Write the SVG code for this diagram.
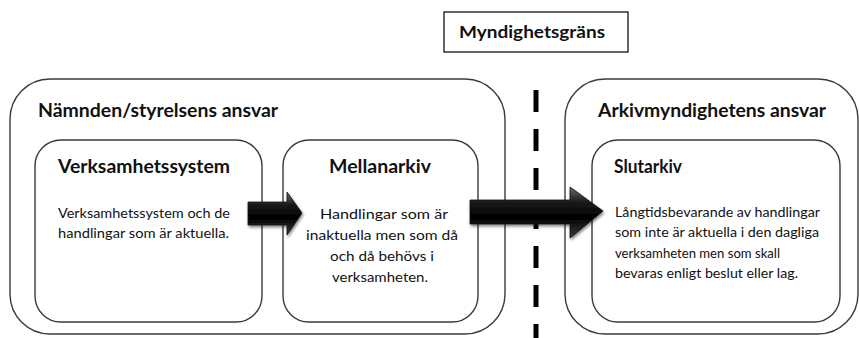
<svg xmlns="http://www.w3.org/2000/svg" width="860" height="338" viewBox="0 0 860 338">
<style>
.bg{fill:#ffffff}
.outer{fill:#ffffff;stroke:#3a3a3a;stroke-width:1.4}
.inner{fill:#ffffff;stroke:#3a3a3a;stroke-width:1.4}
.title{font-family:Lato,"Open Sans","Liberation Sans",sans-serif;font-weight:bold;font-size:19px;fill:#111}
.head{font-family:Lato,"Open Sans","Liberation Sans",sans-serif;font-weight:bold;font-size:18px;fill:#111}
.body{font-family:Lato,"Open Sans","Liberation Sans",sans-serif;font-size:13px;fill:#111}
.arrow{fill:url(#ag);stroke:#111;stroke-width:0.8;filter:url(#sh)}
</style>
<defs>
<linearGradient id="ag" x1="0" y1="0" x2="0" y2="1">
<stop offset="0" stop-color="#6a6a6a"/>
<stop offset="0.3" stop-color="#1a1a1a"/>
<stop offset="0.6" stop-color="#000000"/>
<stop offset="1" stop-color="#3c3c3c"/>
</linearGradient>
<filter id="sh" x="-20%" y="-30%" width="140%" height="160%">
<feGaussianBlur in="SourceAlpha" stdDeviation="1.5"/>
<feOffset dx="1" dy="2" result="b"/>
<feComponentTransfer><feFuncA type="linear" slope="0.5"/></feComponentTransfer>
<feMerge><feMergeNode/><feMergeNode in="SourceGraphic"/></feMerge>
</filter>
</defs>
<rect class="bg" x="0" y="0" width="860" height="338"/>

<g id="myndighetsgrans">
<rect x="444" y="12" width="184" height="40" fill="#fff" stroke="#222" stroke-width="1.4"/>
<text class="head" x="459" y="38" textLength="146" lengthAdjust="spacingAndGlyphs" style="font-size:17px">Myndighetsgräns</text>
</g>

<g id="boundary">
<line x1="536" y1="90" x2="536" y2="338" stroke="#000" stroke-width="5" stroke-dasharray="22 17"/>
</g>

<g id="namnden">
<rect class="outer" x="10" y="79" width="495" height="255" rx="40" ry="40"/>
<text class="title" x="38" y="117" textLength="240" lengthAdjust="spacingAndGlyphs">Nämnden/styrelsens ansvar</text>
</g>

<g id="arkivmyndigheten">
<rect class="outer" x="565" y="79" width="293" height="255" rx="40" ry="40"/>
<text class="title" x="598" y="117" textLength="228" lengthAdjust="spacingAndGlyphs">Arkivmyndighetens ansvar</text>
</g>

<g id="verksamhetssystem">
<rect class="inner" x="35" y="140" width="227" height="182" rx="26" ry="26"/>
<text class="head" x="58" y="173" textLength="172" lengthAdjust="spacingAndGlyphs">Verksamhetssystem</text>
<text class="body" x="58" y="218" textLength="172" lengthAdjust="spacingAndGlyphs">Verksamhetssystem och de</text>
<text class="body" x="58" y="238" textLength="171" lengthAdjust="spacingAndGlyphs">handlingar som är aktuella.</text>
</g>

<g id="mellanarkiv">
<rect class="inner" x="283" y="140" width="195" height="182" rx="26" ry="26"/>
<text class="head" x="329" y="173" textLength="102" lengthAdjust="spacingAndGlyphs">Mellanarkiv</text>
<text class="body" x="320" y="219" textLength="128" lengthAdjust="spacingAndGlyphs">Handlingar som är</text>
<text class="body" x="306" y="240" textLength="152" lengthAdjust="spacingAndGlyphs">inaktuella men som då</text>
<text class="body" x="330" y="261" textLength="104" lengthAdjust="spacingAndGlyphs">och då behövs i</text>
<text class="body" x="332" y="282" textLength="96" lengthAdjust="spacingAndGlyphs">verksamheten.</text>
</g>

<g id="slutarkiv">
<rect class="inner" x="592" y="140" width="248" height="182" rx="26" ry="26"/>
<text class="head" x="614" y="173" textLength="68" lengthAdjust="spacingAndGlyphs">Slutarkiv</text>
<text class="body" x="615" y="217" textLength="205" lengthAdjust="spacingAndGlyphs">Långtidsbevarande av handlingar</text>
<text class="body" x="615" y="237" textLength="204" lengthAdjust="spacingAndGlyphs">som inte är aktuella i den dagliga</text>
<text class="body" x="615" y="258" textLength="165" lengthAdjust="spacingAndGlyphs">verksamheten men som skall</text>
<text class="body" x="615" y="278" textLength="183" lengthAdjust="spacingAndGlyphs">bevaras enligt beslut eller lag.</text>
</g>

<g id="connectors">
<path class="arrow" d="M248,202 L287,202 L287,192 L302,213 L287,235 L287,225 L248,225 Z"/>
<path class="arrow" d="M470,200 L570,200 L570,187 L603,211 L570,238 L570,224 L470,224 Z"/>
</g>
</svg>
